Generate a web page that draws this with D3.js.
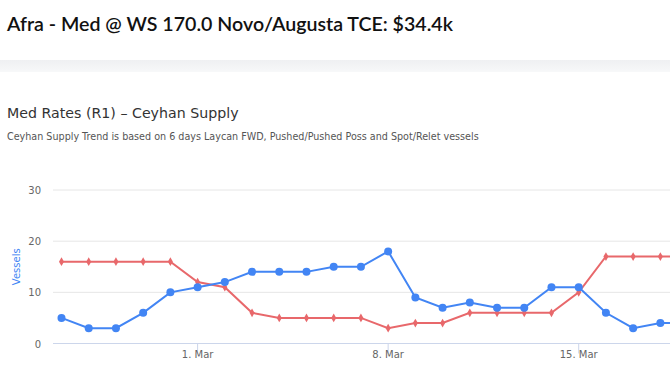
<!DOCTYPE html>
<html><head><meta charset="utf-8">
<script src="https://cdn.jsdelivr.net/npm/d3@7"></script>
<style>
html,body{margin:0;padding:0;background:#fff;overflow:hidden;}
svg{display:block;}
</style></head>
<body>
<svg id="c" width="670" height="380"></svg>
<script>
const dates = ["2023-02-24","2023-02-25","2023-02-26","2023-02-27","2023-02-28","2023-03-01","2023-03-02","2023-03-03","2023-03-04","2023-03-05","2023-03-06","2023-03-07","2023-03-08","2023-03-09","2023-03-10","2023-03-11","2023-03-12","2023-03-13","2023-03-14","2023-03-15","2023-03-16","2023-03-17","2023-03-18","2023-03-19"];
const supply = [5,3,3,6,10,11,12,14,14,14,15,15,18,9,7,8,7,7,11,11,6,3,4,4];
const rates  = [16,16,16,16,16,12,11,6,5,5,5,5,3,4,4,6,6,6,6,10,17,17,17,17];
const yTicks = [0,10,20,30];
const xTicks = ["2023-03-01","2023-03-08","2023-03-15"];

const svg = d3.select("#c");
const parse = d3.timeParse("%Y-%m-%d");
const D = dates.map(parse);

// header band
const defs = svg.append("defs");
const g = defs.append("linearGradient").attr("id","shade").attr("x1",0).attr("y1",0).attr("x2",0).attr("y2",1);
g.append("stop").attr("offset","0%").attr("stop-color","#eff0f2");
g.append("stop").attr("offset","100%").attr("stop-color","#f7f8f9");
svg.append("rect").attr("x",0).attr("y",60).attr("width",670).attr("height",12).attr("fill","url(#shade)");

svg.append("text").attr("x",7).attr("y",31)
  .style("font-family","Lato").style("font-size","19.6px").style("font-weight","600").attr("fill","#111")
  .text("Afra - Med @ WS 170.0 Novo/Augusta TCE: $34.4k");

svg.append("text").attr("x",7).attr("y",118)
  .style("font-family","DejaVu Sans").style("font-size","14.2px").attr("fill","#333")
  .text("Med Rates (R1) – Ceyhan Supply");
svg.append("text").attr("x",7).attr("y",140)
  .style("font-family","DejaVu Sans").style("font-size","9.6px").attr("fill","#555")
  .text("Ceyhan Supply Trend is based on 6 days Laycan FWD, Pushed/Pushed Poss and Spot/Relet vessels");

const x = d3.scaleTime().domain([parse("2023-02-24"), parse("2023-03-15")]).range([61.5, 578.7]);
const y = d3.scaleLinear().domain([0,30]).range([343.5,190]);
const left = 53, right = 670;

// gridlines
svg.append("g").selectAll("line").data(yTicks).join("line")
  .attr("x1",left).attr("x2",right).attr("y1",d=>y(d)).attr("y2",d=>y(d))
  .attr("stroke",d=>d===0?"#ccd6eb":"#e6e6e6").attr("stroke-width",1);

// y labels
svg.append("g").selectAll("text").data(yTicks).join("text")
  .attr("x",41).attr("y",d=>y(d)+4).attr("text-anchor","end")
  .style("font-family","DejaVu Sans").style("font-size","10px").attr("fill","#666").text(d=>d);

svg.append("text").attr("transform",`translate(20,${y(15)}) rotate(-90)`).attr("text-anchor","middle")
  .style("font-family","DejaVu Sans").style("font-size","10px").attr("fill","#4285f4").text("Vessels");

// x ticks
const xt = xTicks.map(parse);
svg.append("g").selectAll("line").data(xt).join("line")
  .attr("x1",d=>x(d)).attr("x2",d=>x(d)).attr("y1",343.5).attr("y2",353.5).attr("stroke","#ccd6eb");
svg.append("g").selectAll("text").data(xt).join("text")
  .attr("x",d=>x(d)).attr("y",358).attr("text-anchor","middle")
  .style("font-family","DejaVu Sans").style("font-size","10px").attr("fill","#666")
  .text(d=>d3.timeFormat("%-d. %b")(d));

const line = d3.line().x((d,i)=>x(D[i])).y(d=>y(d));
svg.append("path").datum(rates).attr("d",line).attr("fill","none").attr("stroke","#e8686b").attr("stroke-width",2);
svg.append("path").datum(supply).attr("d",line).attr("fill","none").attr("stroke","#4285f4").attr("stroke-width",2);

svg.append("g").selectAll("path").data(rates).join("path")
  .attr("d",d3.symbol(d3.symbolDiamond, 22))
  .attr("transform",(d,i)=>`translate(${x(D[i])},${y(d)})`).attr("fill","#e8686b");
svg.append("g").selectAll("circle").data(supply).join("circle")
  .attr("cx",(d,i)=>x(D[i])).attr("cy",d=>y(d)).attr("r",4).attr("fill","#4285f4");
</script>
</body></html>
